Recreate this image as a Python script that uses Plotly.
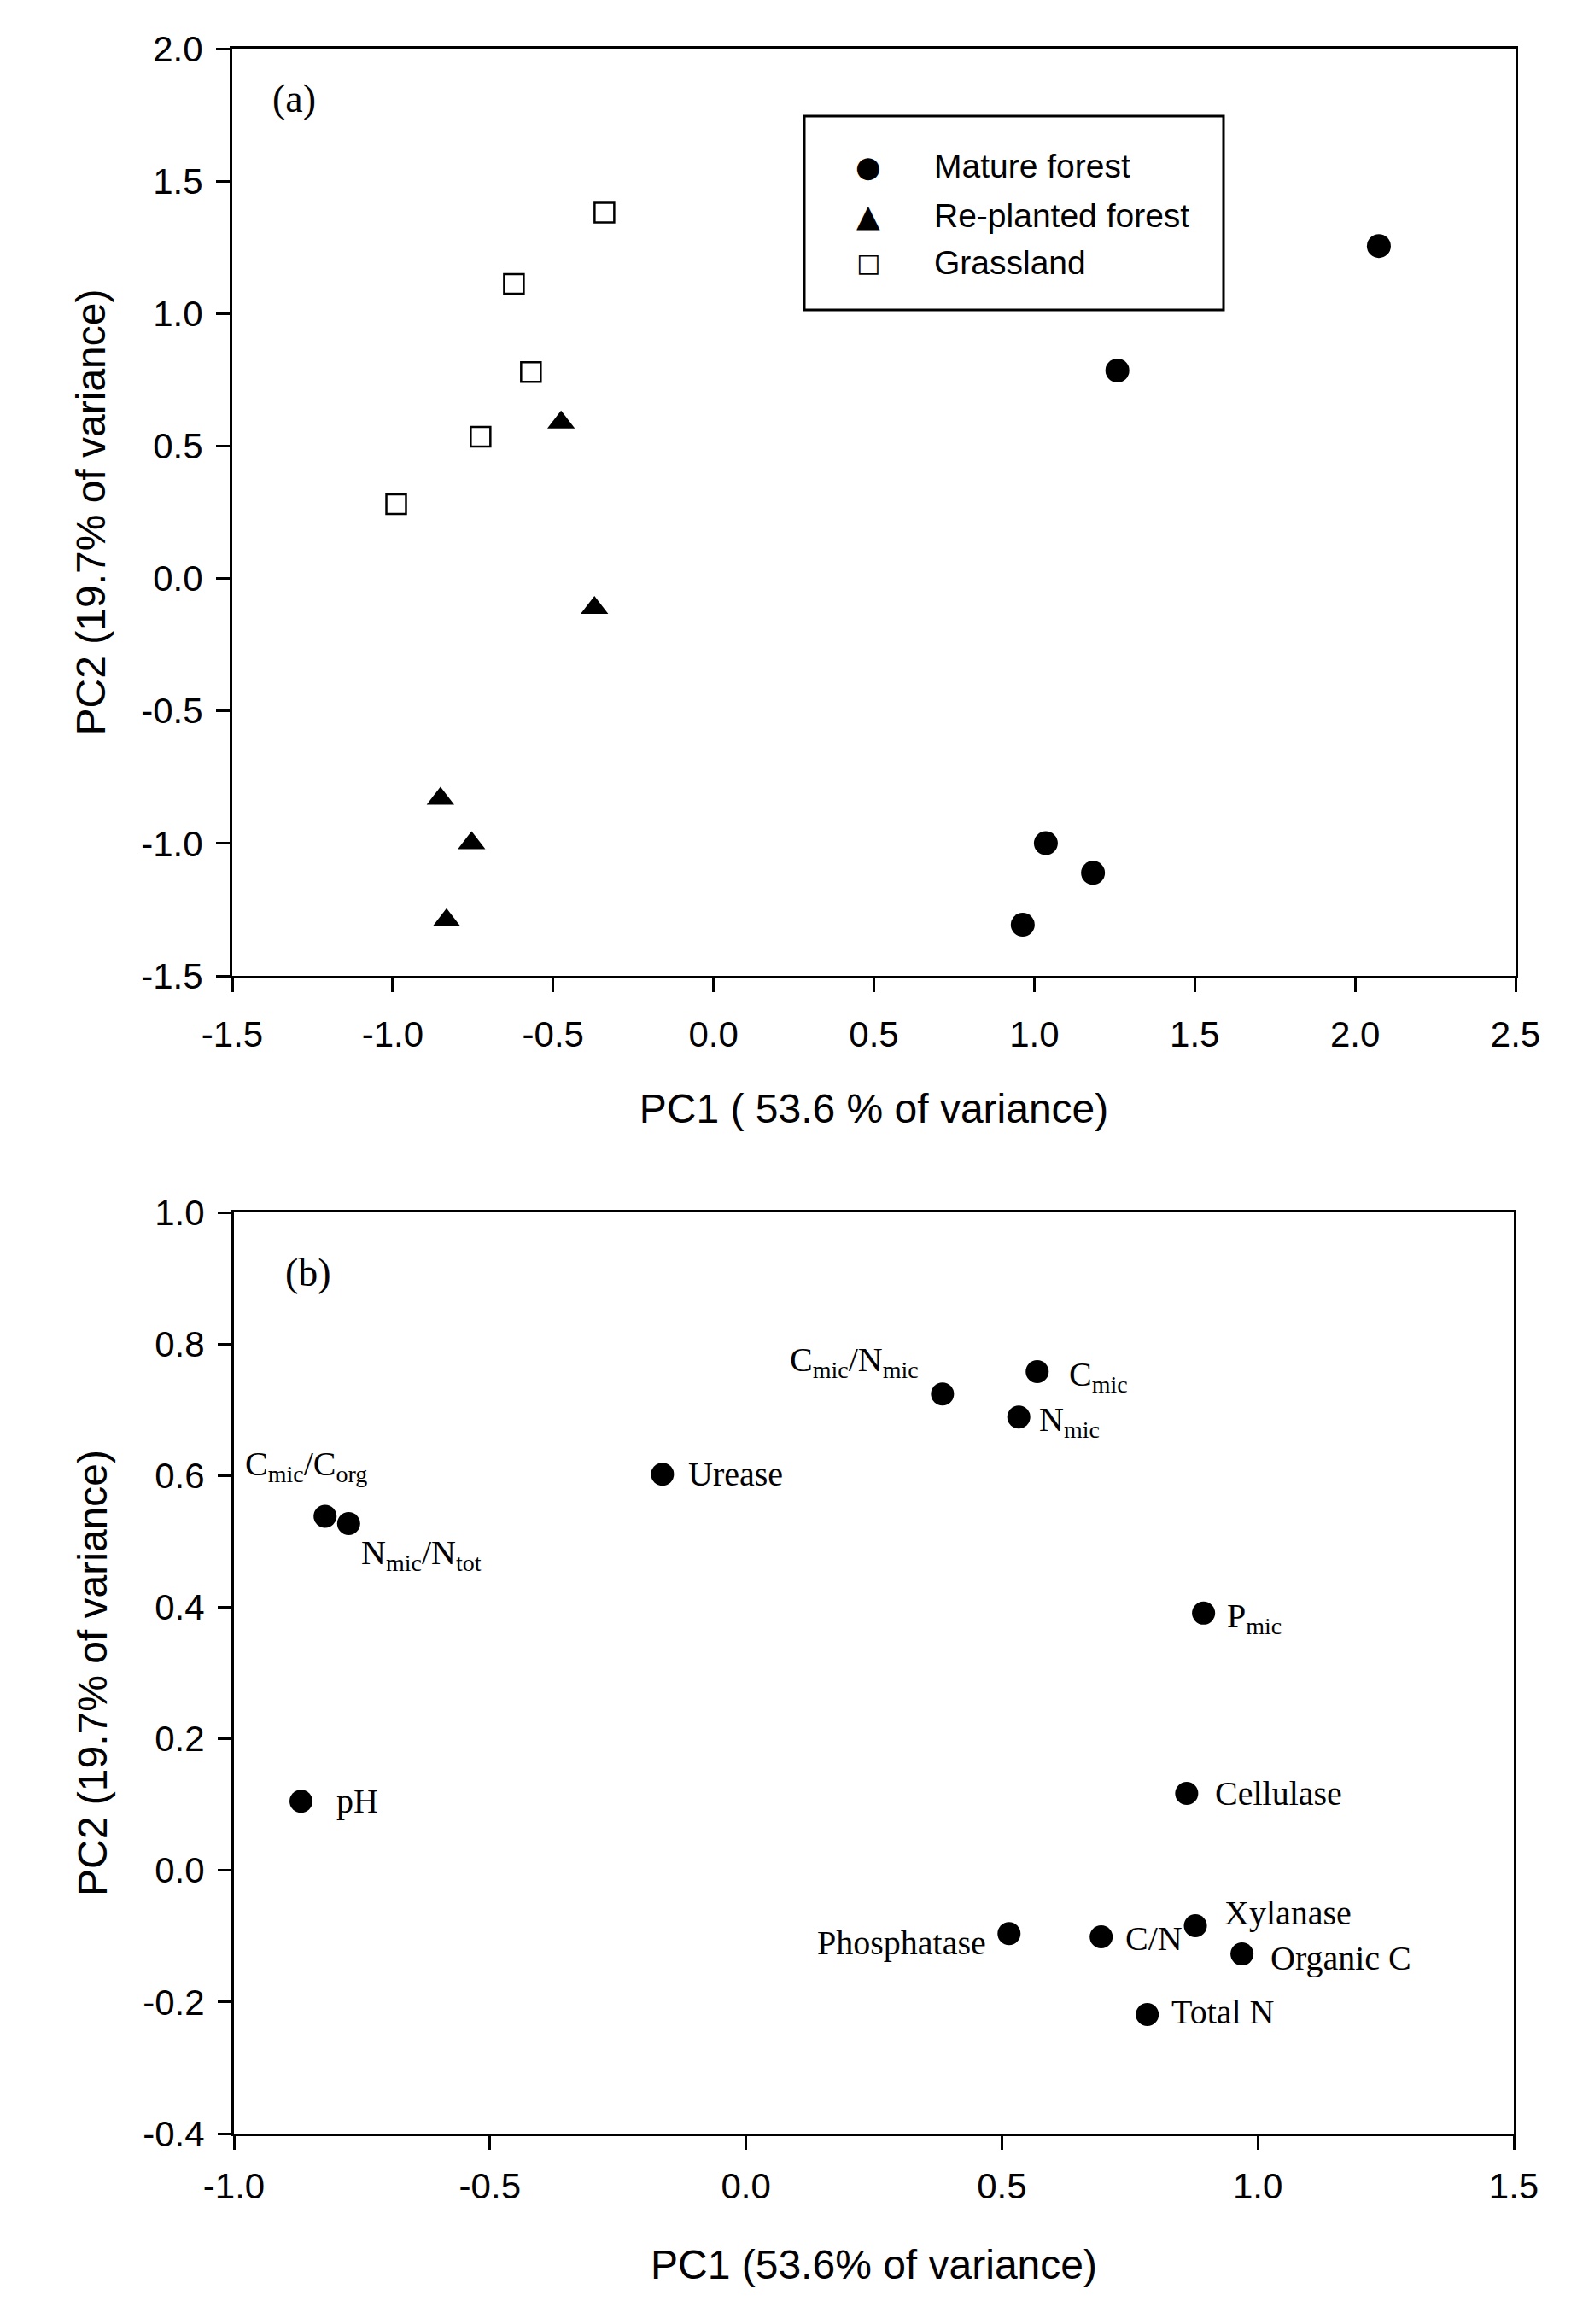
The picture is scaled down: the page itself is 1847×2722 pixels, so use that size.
import plotly.graph_objects as go

# panel (a): PCA scores per site type
mature_x = [2.074, 1.259, 1.036, 1.183, 0.964]
mature_y = [1.255, 0.785, -0.999, -1.111, -1.307]

replanted_x = [-0.475, -0.371, -0.851, -0.754, -0.832]
replanted_y = [0.589, -0.111, -0.831, -0.999, -1.290]

grass_x = [-0.340, -0.622, -0.569, -0.726, -0.989]
grass_y = [1.381, 1.112, 0.779, 0.535, 0.281]

legend_names = ['Mature forest', 'Re-planted forest', 'Grassland']
legend_glyphs = ['\u25cf', '\u25b2', '\u25a1']

# panel (b): variable loadings
var_names = ['C<sub>mic</sub>', 'C<sub>mic</sub>/N<sub>mic</sub>', 'N<sub>mic</sub>', 'Urease',
             'C<sub>mic</sub>/C<sub>org</sub>', 'N<sub>mic</sub>/N<sub>tot</sub>', 'P<sub>mic</sub>',
             'Cellulase', 'pH', 'Xylanase', 'Phosphatase', 'C/N', 'Organic C', 'Total N']
var_x = [0.569, 0.384, 0.533, -0.163, -0.822, -0.776, 0.894,
         0.861, -0.869, 0.878, 0.514, 0.694, 0.969, 0.784]
var_y = [0.758, 0.724, 0.689, 0.602, 0.538, 0.527, 0.391,
         0.117, 0.105, -0.084, -0.096, -0.101, -0.127, -0.219]

# tick values / labels (hyphen minus as in the original)
xa_ticks = [-1.5, -1.0, -0.5, 0.0, 0.5, 1.0, 1.5, 2.0, 2.5]
xa_labels = ['-1.5', '-1.0', '-0.5', '0.0', '0.5', '1.0', '1.5', '2.0', '2.5']
ya_ticks = [-1.5, -1.0, -0.5, 0.0, 0.5, 1.0, 1.5, 2.0]
ya_labels = ['-1.5', '-1.0', '-0.5', '0.0', '0.5', '1.0', '1.5', '2.0']
xb_ticks = [-1.0, -0.5, 0.0, 0.5, 1.0, 1.5]
xb_labels = ['-1.0', '-0.5', '0.0', '0.5', '1.0', '1.5']
yb_ticks = [-0.4, -0.2, 0.0, 0.2, 0.4, 0.6, 0.8, 1.0]
yb_labels = ['-0.4', '-0.2', '0.0', '0.2', '0.4', '0.6', '0.8', '1.0']

# label placement (anchor, x shift, y shift in px)
lab_anchor = ['left', 'right', 'left', 'left', 'left', 'left', 'left',
              'left', 'left', 'left', 'right', 'left', 'left', 'left']
lab_dx = [35, -26, 22, 28, -96, 13, 25, 31, 39, 32, -25, 26, 31, 26]
lab_dy = [-5, 38, -5, 0, 59, -36, -6, 0, 0, 15, -11, -2, -5, 3]

# the page body adds an 8px margin, so the figure is drawn 8px smaller on each side
OFF = 8
W, H = 1847 - 2 * OFF, 2722 - 2 * OFF


def px_x(px):
    return (px - OFF) / W


def px_y(py):
    return 1 - (py - OFF) / H


sans = 'Liberation Sans, Arial, sans-serif'
serif = 'Times New Roman, Liberation Serif, serif'

fig = go.Figure()

fig.add_trace(go.Scatter(x=mature_x, y=mature_y, mode='markers', name=legend_names[0],
                         marker=dict(symbol='circle', size=28, color='black'),
                         xaxis='x', yaxis='y'))
fig.add_trace(go.Scatter(x=replanted_x, y=replanted_y, mode='markers', name=legend_names[1],
                         marker=dict(symbol='triangle-up', size=28, color='black'),
                         xaxis='x', yaxis='y'))
fig.add_trace(go.Scatter(x=grass_x, y=grass_y, mode='markers', name=legend_names[2],
                         marker=dict(symbol='square', size=23, color='white',
                                     line=dict(color='black', width=2.5)),
                         xaxis='x', yaxis='y'))

fig.add_trace(go.Scatter(x=var_x, y=var_y, mode='markers',
                         marker=dict(symbol='circle', size=27, color='black'),
                         xaxis='x2', yaxis='y2'))

annotations = []
for name, x, y, anc, dx, dy in zip(var_names, var_x, var_y, lab_anchor, lab_dx, lab_dy):
    annotations.append(dict(x=x, y=y, xref='x2', yref='y2', text=name, showarrow=False,
                            xanchor=anc, yanchor='middle', xshift=dx, yshift=dy,
                            font=dict(family=serif, size=40, color='black')))

annotations.append(dict(x=0.03, y=0.946, xref='x domain', yref='y domain', text='(a)',
                        showarrow=False, xanchor='left', yanchor='middle',
                        font=dict(family=serif, size=46, color='black')))
annotations.append(dict(x=0.039, y=0.935, xref='x2 domain', yref='y2 domain', text='(b)',
                        showarrow=False, xanchor='left', yanchor='middle',
                        font=dict(family=serif, size=46, color='black')))

# hand-built legend box (plotly caps legend marker size)
row_y = [195, 252, 308]
glyph_sizes = [34, 36, 30]
for name, glyph, gs, ry in zip(legend_names, legend_glyphs, glyph_sizes, row_y):
    annotations.append(dict(x=px_x(1017), y=px_y(ry), xref='paper', yref='paper', text=glyph,
                            showarrow=False, xanchor='center', yanchor='middle',
                            font=dict(family='DejaVu Sans', size=gs, color='black')))
    annotations.append(dict(x=px_x(1092), y=px_y(ry), xref='paper', yref='paper', text=name,
                            showarrow=False, xanchor='left', yanchor='middle',
                            font=dict(family=sans, size=39, color='black')))

shapes = [dict(type='rect', xref='paper', yref='paper',
               x0=px_x(942), x1=px_x(1433), y0=px_y(363), y1=px_y(136),
               line=dict(color='black', width=3), fillcolor='rgba(0,0,0,0)')]

axis_style = dict(showline=True, mirror=True, linecolor='black', linewidth=3,
                  ticks='outside', ticklen=16, tickwidth=3, tickcolor='black',
                  showgrid=False, zeroline=False, automargin=False, tickmode='array',
                  tickfont=dict(family=sans, size=42, color='black'))
title_font = dict(family=sans, size=48, color='black')

fig.update_layout(
    template='none',
    width=W, height=H,
    margin=dict(l=0, r=0, t=0, b=0),
    paper_bgcolor='white', plot_bgcolor='white',
    showlegend=False,
    xaxis=dict(axis_style, domain=[px_x(272), px_x(1775)], range=[-1.5, 2.5],
               tickvals=xa_ticks, ticktext=xa_labels, anchor='y', ticklabelstandoff=14,
               title=dict(text='PC1 ( 53.6 % of variance)', standoff=47, font=title_font)),
    yaxis=dict(axis_style, domain=[px_y(1143), px_y(57)], range=[-1.5, 2.0],
               tickvals=ya_ticks, ticktext=ya_labels, anchor='x', ticklabelstandoff=7,
               title=dict(text='PC2 (19.7% of variance)', standoff=27, font=title_font)),
    xaxis2=dict(axis_style, domain=[px_x(274), px_x(1773)], range=[-1.0, 1.5],
                tickvals=xb_ticks, ticktext=xb_labels, anchor='y2', ticklabelstandoff=7,
                title=dict(text='PC1 (53.6% of variance)', standoff=52, font=title_font)),
    yaxis2=dict(axis_style, domain=[px_y(2499), px_y(1420)], range=[-0.4, 1.0],
                tickvals=yb_ticks, ticktext=yb_labels, anchor='x2', ticklabelstandoff=7,
                title=dict(text='PC2 (19.7% of variance)', standoff=27, font=title_font)),
    annotations=annotations,
    shapes=shapes,
)

fig.write_html("out.html")
